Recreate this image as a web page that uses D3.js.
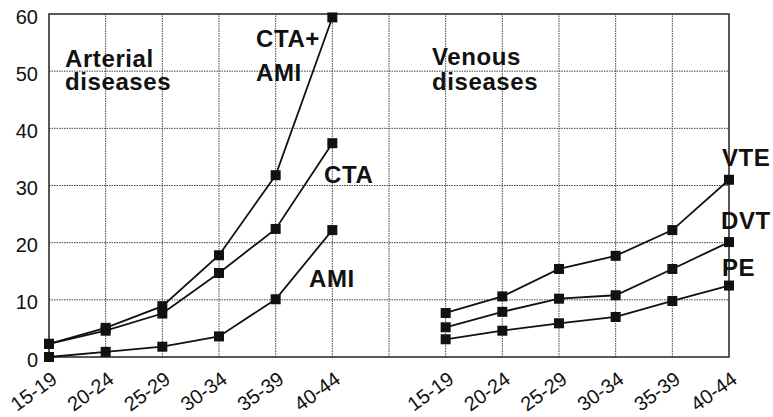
<!DOCTYPE html>
<html>
<head>
<meta charset="utf-8">
<script src="https://cdn.jsdelivr.net/npm/d3@7"></script>
<style>
  body { margin: 0; background: #fff; }
  svg { display: block; font-family: "Liberation Sans", Arial, sans-serif; }
  .grid line { stroke: #444; stroke-width: 1; stroke-dasharray: 1.5,1; }
  .axis text { font-family: "Liberation Sans", Arial, sans-serif; font-size: 20px; fill: #111; }
  .axis path, .axis line { display: none; }
  .lbl { font-size: 24px; font-weight: bold; fill: #111; letter-spacing: 0.6px; }
</style>
</head>
<body>
<svg id="chart" width="773" height="417"></svg>
<script>
// age groups (same for both panels)
const ageGroups = ["15-19", "20-24", "25-29", "30-34", "35-39", "40-44"];
const yTicks = [0, 10, 20, 30, 40, 50, 60];

// arterial diseases
const ctaAmi = [2.3, 5.1, 8.9, 17.8, 31.8, 59.4];
const cta = [2.3, 4.6, 7.6, 14.7, 22.4, 37.4];
const ami = [0, 0.9, 1.8, 3.6, 10.1, 22.2];

// venous diseases
const vte = [7.7, 10.6, 15.4, 17.7, 22.2, 31.0];
const dvt = [5.2, 7.9, 10.2, 10.8, 15.4, 20.1];
const pe = [3.1, 4.6, 5.9, 7.0, 9.8, 12.5];

const svg = d3.select("#chart");

// one slot per age group on each side, plus an empty slot in between
const artKeys = ageGroups.map(a => "art_" + a);
const venKeys = ageGroups.map(a => "ven_" + a);
const keys = artKeys.concat(["gap"], venKeys);

const x = d3.scalePoint().domain(keys).range([49, 729]);
const y = d3.scaleLinear().domain([0, 60]).range([357, 14]);

// grid
const grid = svg.append("g").attr("class", "grid");
grid.selectAll("line.v").data(keys).join("line")
    .attr("class", "v")
    .attr("x1", d => x(d)).attr("x2", d => x(d))
    .attr("y1", y(0)).attr("y2", y(60));
grid.selectAll("line.h").data(yTicks).join("line")
    .attr("class", "h")
    .attr("x1", x.range()[0]).attr("x2", x.range()[1])
    .attr("y1", d => y(d)).attr("y2", d => y(d));

// frame
svg.append("rect")
    .attr("x", x.range()[0]).attr("y", y(60))
    .attr("width", x.range()[1] - x.range()[0])
    .attr("height", y(0) - y(60))
    .attr("fill", "none").attr("stroke", "#333").attr("stroke-width", 1.5);

// y axis
const yaxis = d3.axisLeft(y).tickValues(yTicks).tickSize(0).tickPadding(11);
svg.append("g").attr("class", "axis").attr("transform", `translate(${x.range()[0]},0)`)
    .call(yaxis)
    .selectAll("text").attr("dy", "0.45em");

// x axis
const xaxis = d3.axisBottom(x).tickValues(artKeys.concat(venKeys))
    .tickFormat(d => d.slice(4)).tickSize(0);
svg.append("g").attr("class", "axis").attr("transform", `translate(0,${y(0)})`)
    .call(xaxis)
    .selectAll("text")
    .attr("text-anchor", "end")
    .attr("y", 0).attr("dy", 0)
    .attr("transform", "translate(9,25) rotate(-36)");

// series
const series = [
  { keys: artKeys, values: ctaAmi },
  { keys: artKeys, values: cta },
  { keys: artKeys, values: ami },
  { keys: venKeys, values: vte },
  { keys: venKeys, values: dvt },
  { keys: venKeys, values: pe }
];

const line = d3.line().x(d => x(d.k)).y(d => y(d.v));

series.forEach(s => {
  const pts = s.values.map((v, i) => ({ k: s.keys[i], v: v }));
  svg.append("path").datum(pts)
      .attr("d", line)
      .attr("fill", "none").attr("stroke", "#111").attr("stroke-width", 1.8);
  svg.append("g").selectAll("rect").data(pts).join("rect")
      .attr("x", d => x(d.k) - 5).attr("y", d => y(d.v) - 5)
      .attr("width", 10).attr("height", 10)
      .attr("fill", "#111");
});

// labels (multi-line ones as tspans)
const labels = [
  { lines: ["Arterial", "diseases"], x: 65, y: 67, lh: 23 },
  { lines: ["Venous", "diseases"], x: 432, y: 65, lh: 25 },
  { lines: ["CTA+", "AMI"], x: 256, y: 47, lh: 34 },
  { lines: ["CTA"], x: 324, y: 183 },
  { lines: ["AMI"], x: 309, y: 287 },
  { lines: ["VTE"], x: 722, y: 166 },
  { lines: ["DVT"], x: 721, y: 229 },
  { lines: ["PE"], x: 722, y: 276 }
];
svg.append("g").selectAll("text").data(labels).join("text")
    .attr("class", "lbl")
    .attr("x", d => d.x).attr("y", d => d.y)
    .each(function (d) {
      d3.select(this).selectAll("tspan").data(d.lines).join("tspan")
          .attr("x", d.x)
          .attr("dy", (t, i) => i === 0 ? 0 : d.lh)
          .text(t => t);
    });
</script>
</body>
</html>
